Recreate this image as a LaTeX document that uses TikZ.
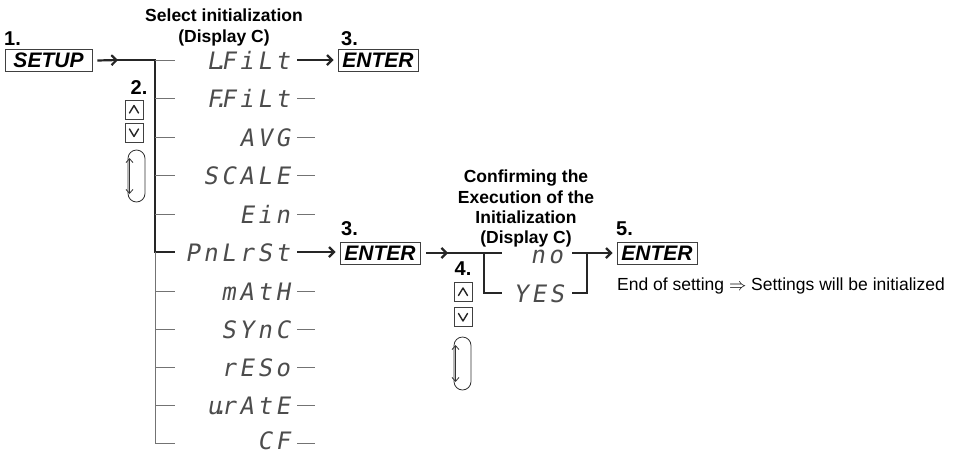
\documentclass[tikz,border=0pt]{standalone}
\usepackage{fontspec}
\setmainfont{Liberation Sans}
\newfontfamily\seg{DejaVu Sans Mono}[FakeSlant=0.18,LetterSpace=15]
\usetikzlibrary{arrows.meta}
\newcommand\dt{\kern-0.32em.\kern-0.28em}
\begin{document}
\begin{tikzpicture}[x=1pt,y=-1pt,
  hdr/.style={font=\fontsize{17.5}{20.2}\selectfont\bfseries, inner sep=0pt, align=center, anchor=north},
  num/.style={font=\fontsize{20}{22}\selectfont\bfseries, inner sep=0pt, text depth=0pt, anchor=base west},
  key/.style={draw=black!75, line width=0.9pt, font=\fontsize{21}{22}\selectfont\bfseries\itshape, inner sep=0pt, minimum width=80pt, minimum height=22pt},
  btn/.style={draw=black!75, line width=0.8pt, inner sep=0pt, minimum width=18pt, minimum height=19pt},
  chev/.style={line width=1.4pt, draw=black!85, line cap=round, line join=round},
  segtxt/.style={font=\seg\fontsize{24}{24}\selectfont, text=black!70, inner sep=0pt, text depth=0pt, anchor=base east},
  heavy/.style={line width=2.2pt, draw=black!85},
  tickline/.style={line width=0.7pt, draw=black!55},
  tip/.style={-{Straight Barb[length=5pt,width=10pt]}},
  capsule/.style={draw=black!80, line width=0.8pt, rounded corners=8.5pt},
  dbl/.style={draw=black!80, line width=0.8pt, {Straight Barb[length=4pt,width=7pt]}-{Straight Barb[length=4pt,width=7pt]}},
  txt/.style={font=\fontsize{17.5}{20}\selectfont, inner sep=0pt, anchor=base west}
]
\useasboundingbox (0,0) rectangle (976,453);

% headings
\node[hdr] (h1) at (224,9) {Select initialization\\(Display C)};
\node[hdr] (h2) at (526,170) {Confirming the\\Execution of the\\Initialization\\(Display C)};

% step numbers
\node[num] (n1) at (4,45) {1.};
\node[num] (n3a) at (341,45) {3.};
\node[num] (n3b) at (341,235) {3.};
\node[num] (n5) at (616,235) {5.};
\node[num, anchor=base] (n2) at (139,94) {2.};
\node[num, anchor=base] (n4) at (463,275) {4.};

% buttons group 1
\node[btn] (up1) at (134,109.5) {};
\node[btn] (dn1) at (134,132.5) {};
\draw[chev] ([xshift=-4.5pt,yshift=-3.5pt]up1.center) -- ([yshift=4pt]up1.center) -- ([xshift=4.5pt,yshift=-3.5pt]up1.center);
\draw[chev] ([xshift=-4.5pt,yshift=3.5pt]dn1.center) -- ([yshift=-4pt]dn1.center) -- ([xshift=4.5pt,yshift=3.5pt]dn1.center);
\draw[capsule] (128,150) rectangle (145,202);
\coordinate (a1t) at (129.5,158);
\coordinate (a1b) at (129.5,194);
\draw[dbl] (a1t) -- (a1b);

% buttons group 2
\node[btn] (up2) at (463,292) {};
\node[btn] (dn2) at (463,317) {};
\draw[chev] ([xshift=-4.5pt,yshift=-3.5pt]up2.center) -- ([yshift=4pt]up2.center) -- ([xshift=4.5pt,yshift=-3.5pt]up2.center);
\draw[chev] ([xshift=-4.5pt,yshift=3.5pt]dn2.center) -- ([yshift=-4pt]dn2.center) -- ([xshift=4.5pt,yshift=3.5pt]dn2.center);
\draw[capsule] (454,337) rectangle (471,390);
\coordinate (a2t) at (455.5,345);
\coordinate (a2b) at (455.5,382);
\draw[dbl] (a2t) -- (a2b);

% keys
\node[key, minimum width=87pt] (setup) at (48.5,60.5) {SETUP};
\node[key] (enter1) at (378,60.5) {ENTER};
\node[key] (enter2) at (380,253) {ENTER};
\node[key] (enter5) at (657,253) {ENTER};

% display texts
\node[segtxt] (s1) at (290,69) {L\dt FiLt};
\node[segtxt] (s2) at (290,107) {F\dt FiLt};
\node[segtxt] (s3) at (290,146) {AVG};
\node[segtxt] (s4) at (290,184) {SCALE};
\node[segtxt] (s5) at (290,223) {Ein};
\node[segtxt] (s6) at (290,261) {PnLrSt};
\node[segtxt] (s7) at (290,300) {mAtH};
\node[segtxt] (s8) at (290,338) {SYnC};
\node[segtxt] (s9) at (290,376) {rESo};
\node[segtxt] (s10) at (290,414) {u\dt rAtE};
\node[segtxt] (s11) at (290,449) {CF};
\node[segtxt] (no) at (563,263) {no};
\node[segtxt] (yes) at (564,302) {YES};

% trunk group 1
\coordinate (tr) at (155,60);
\coordinate (tb) at (155,252);
\coordinate (te) at (155,443);
\draw[heavy, tip] ([xshift=5pt]setup.east) -- (118,60);
\draw[heavy] (112,60) -- (tr) -- (tb) -- (175,252);
\draw[tickline] (tb) -- (te) -- (175,443);
\foreach \y in {60,98,137,175,214,291,329,367,405}
  \draw[tickline] (155,\y) -- (175,\y);
\foreach \y in {98,137,175,214,291,329,367,405,443}
  \draw[tickline] (297,\y) -- (315,\y);
\draw[heavy, tip, shorten >=4pt] (297,60) -- (enter1.west |- 0,60);
\draw[heavy, tip, shorten >=4pt] (297,252) -- (enter2.west |- 0,252);

% group 2 brackets
\coordinate (bl) at (484,253);
\coordinate (br) at (587,253);
\draw[heavy, tip] ([xshift=6pt]enter2.east) -- (448,253);
\draw[heavy] (442,253) -- (502,253);
\draw[heavy] (bl) -- (484,293) -- (502,293);
\draw[heavy] (572,293) -- (587,293) -- (br);
\draw[heavy, tip, shorten >=4pt] (572,253) -- (enter5.west);

% result text
\node[txt] (res) at (617,290) {End of setting $\Rightarrow$ Settings will be initialized};
\end{tikzpicture}
\end{document}
